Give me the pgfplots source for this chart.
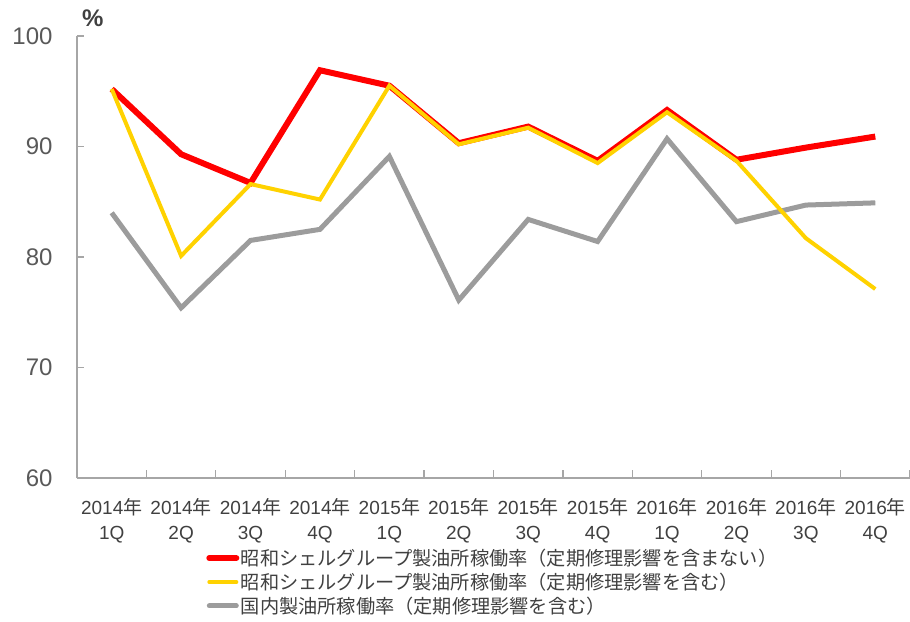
\documentclass[border=0pt]{standalone}
\usepackage{fontspec}
\usepackage{pgfplots}
\pgfplotsset{compat=1.18}
\setmainfont{Liberation Sans}
\newfontfamily\cjk{Noto Sans CJK JP}
\definecolor{txt}{HTML}{404040}
\definecolor{ytxt}{HTML}{595959}
\definecolor{axgray}{HTML}{A6A6A6}
\definecolor{cred}{HTML}{FF0000}
\definecolor{cyel}{HTML}{FFD200}
\definecolor{cgray}{HTML}{9C9C9C}
\newcommand{\yq}[2]{#1{\cjk 年}\\#2}
\begin{document}
\begin{tikzpicture}
\begin{axis}[
  at={(0,0)}, anchor=south west,
  scale only axis, width=833pt, height=442pt,
  xmin=-0.5, xmax=11.5, ymin=60, ymax=100,
  axis x line*=bottom, axis y line*=left,
  axis line style={axgray, line width=1.4pt},
  tick align=inside,
  xtick={0,...,11},
  xticklabels={\yq{2014}{1Q},\yq{2014}{2Q},\yq{2014}{3Q},\yq{2014}{4Q},\yq{2015}{1Q},\yq{2015}{2Q},\yq{2015}{3Q},\yq{2015}{4Q},\yq{2016}{1Q},\yq{2016}{2Q},\yq{2016}{3Q},\yq{2016}{4Q}},
  major x tick style={draw=none},
  minor xtick={-0.5,0.5,...,11.5},
  minor tick length=8pt,
  minor x tick style={axgray, line width=1.2pt},
  ytick={60,70,80,90,100},
  major tick length=7pt,
  major y tick style={axgray, line width=1.2pt},
  xticklabel style={align=center, font=\fontsize{19}{25}\selectfont, text=txt, yshift=-20pt, inner sep=0pt},
  yticklabel style={font=\fontsize{24}{28}\selectfont, text=ytxt, xshift=-21pt},
  /pgf/number format/assume math mode=true,
  clip=false,
  legend cell align=left,
  legend style={at={(0.155,-0.157)}, anchor=north west, draw=none, fill=none,
    font=\cjk\fontsize{19.2}{22}\selectfont, text=txt, row sep=3pt,
    inner sep=0pt, nodes={inner sep=1.5pt}},
  legend image code/.code={\draw[#1, line cap=round] (0pt,0pt) -- (27pt,0pt);},
]
\addlegendimage{cred, line width=6pt}
\addlegendentry{昭和シェルグループ製油所稼働率（定期修理影響を含まない）}
\addlegendimage{cyel, line width=4pt}
\addlegendentry{昭和シェルグループ製油所稼働率（定期修理影響を含む）}
\addlegendimage{cgray, line width=5pt}
\addlegendentry{国内製油所稼働率（定期修理影響を含む）}

\addplot[forget plot, cgray, line width=5pt, line join=miter] coordinates {
(0,84.0) (1,75.4) (2,81.5) (3,82.5) (4,89.1) (5,76.1) (6,83.4) (7,81.4) (8,90.7) (9,83.2) (10,84.7) (11,84.9)};
\addplot[forget plot, cred, line width=6pt, line join=miter] coordinates {
(0,95.2) (1,89.3) (2,86.7) (3,96.9) (4,95.5) (5,90.3) (6,91.8) (7,88.7) (8,93.3) (9,88.8) (10,89.9) (11,90.9)};
\addplot[forget plot, cyel, line width=4pt, line join=miter] coordinates {
(0,95.2) (1,80.1) (2,86.6) (3,85.2) (4,95.5) (5,90.2) (6,91.7) (7,88.5) (8,93.1) (9,88.7) (10,81.7) (11,77.1)};

\node[font=\bfseries\fontsize{24}{26}\selectfont, text=txt, anchor=west, inner sep=0pt] at (rel axis cs:0,1) [xshift=5pt, yshift=18pt] {\%};
\end{axis}
\pgfresetboundingbox
\path[use as bounding box] (-77pt,-143pt) rectangle (833pt,478pt);
\end{tikzpicture}
\end{document}
